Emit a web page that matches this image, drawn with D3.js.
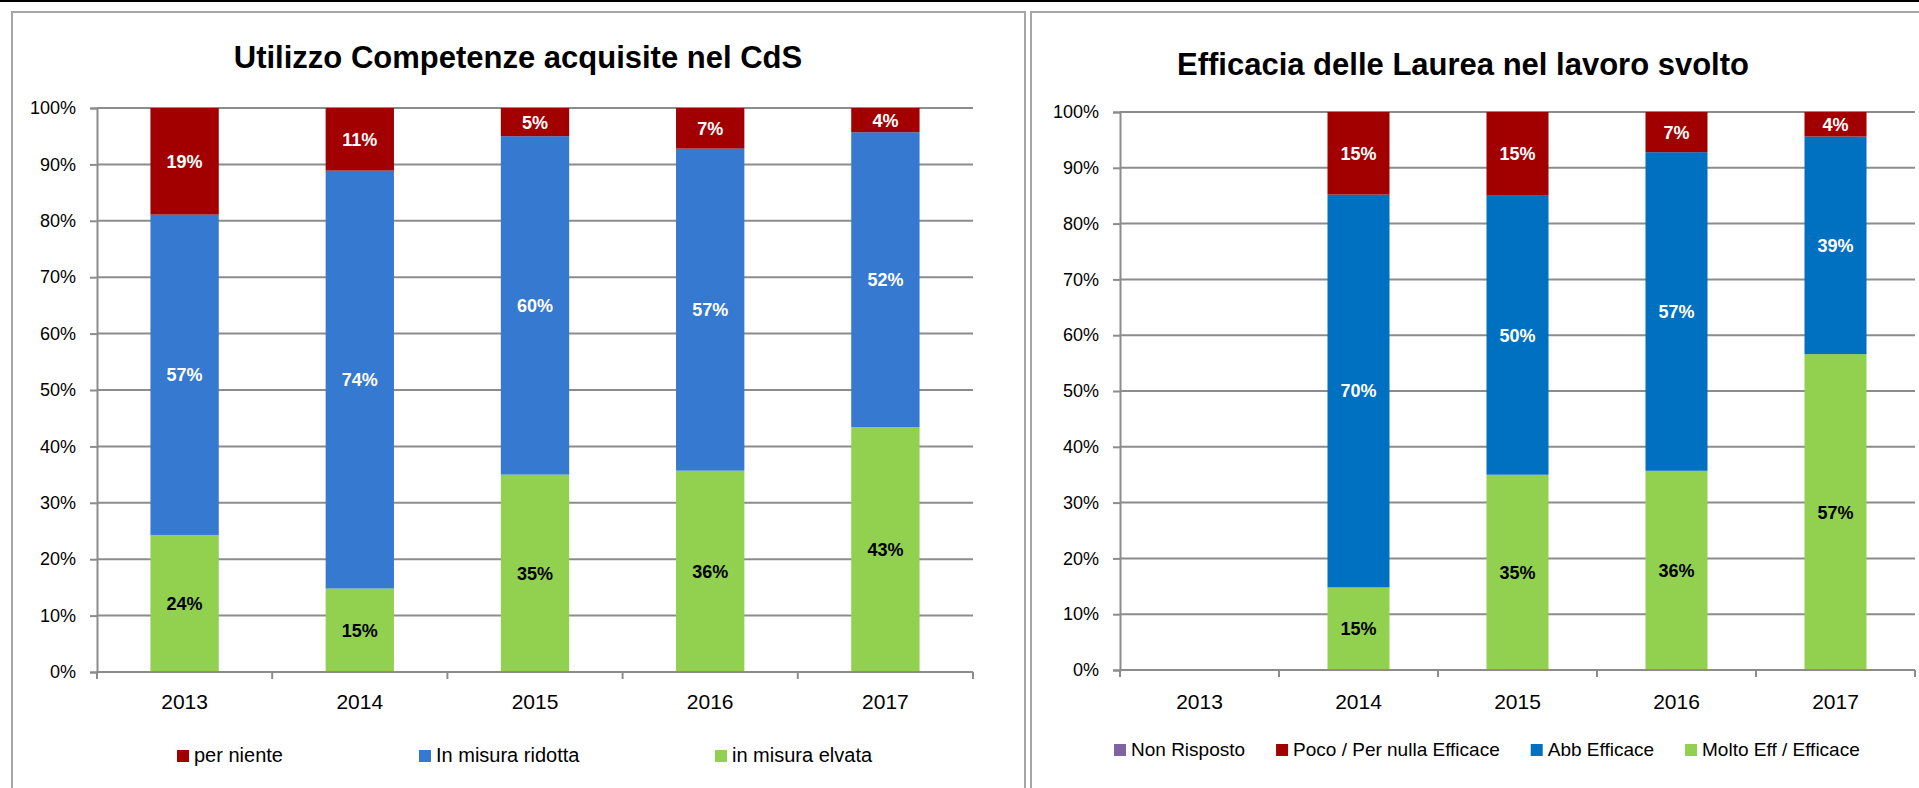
<!DOCTYPE html>
<html>
<head>
<meta charset="utf-8">
<script src="https://d3js.org/d3.v7.min.js"></script>
<style>
    body { margin: 0; background: #fff; }
    svg { display: block; font-family: "Liberation Sans", Arial, sans-serif; }
</style>
</head>
<body>
<div id="charts"></div>
<script>
// data (percent of respondents)
var years = ["2013", "2014", "2015", "2016", "2017"];

// chart 1 - Utilizzo Competenze acquisite nel CdS
var perNiente = [18.9, 11.1, 5.0, 7.2, 4.3];
var inMisuraRidotta = [56.8, 74.1, 60.0, 57.1, 52.3];
var inMisuraElvata = [24.3, 14.8, 35.0, 35.7, 43.4];

// chart 2 - Efficacia delle Laurea nel lavoro svolto
var nonRisposto = [0, 0, 0, 0, 0];
var pocoPerNulla = [0, 14.8, 15.0, 7.2, 4.4];
var abbEfficace = [0, 70.4, 50.0, 57.1, 39.0];
var moltoEff = [0, 14.8, 35.0, 35.7, 56.6];

var yTicks = [0, 10, 20, 30, 40, 50, 60, 70, 80, 90, 100];

var svg = d3.select("#charts").append("svg")
    .attr("width", 1919)
    .attr("height", 788);

// black rule on top of the page
svg.append("rect").attr("x", 0).attr("y", 0).attr("width", 1919).attr("height", 2).attr("fill", "#000");

// panel borders
svg.append("rect").attr("x", 12).attr("y", 12).attr("width", 1013).attr("height", 800)
    .attr("fill", "none").attr("stroke", "#a6a6a6").attr("stroke-width", 2);
svg.append("rect").attr("x", 1031).attr("y", 12).attr("width", 920).attr("height", 800)
    .attr("fill", "none").attr("stroke", "#a6a6a6").attr("stroke-width", 2);

drawChart({
    title: "Utilizzo Competenze acquisite nel CdS",
    titleX: 518, titleY: 68,
    left: 97, right: 973, top: 108, bottom: 672,
    series: [
        {name: "in misura elvata", values: inMisuraElvata, color: "#92d050", text: "#000"},
        {name: "In misura ridotta", values: inMisuraRidotta, color: "#3579d0", text: "#fff"},
        {name: "per niente", values: perNiente, color: "#a20000", text: "#fff"}
    ],
    legendOrder: ["per niente", "In misura ridotta", "in misura elvata"],
    legendX: [177, 419, 715], legendY: 750, legendFont: 20
});

drawChart({
    title: "Efficacia delle Laurea nel lavoro svolto",
    titleX: 1463, titleY: 75,
    left: 1120, right: 1915, top: 112, bottom: 670,
    series: [
        {name: "Molto Eff / Efficace", values: moltoEff, color: "#92d050", text: "#000"},
        {name: "Abb Efficace", values: abbEfficace, color: "#0070c0", text: "#fff"},
        {name: "Poco / Per nulla Efficace", values: pocoPerNulla, color: "#a20000", text: "#fff"},
        {name: "Non Risposto", values: nonRisposto, color: "#8064a2", text: "#fff"}
    ],
    legendOrder: ["Non Risposto", "Poco / Per nulla Efficace", "Abb Efficace", "Molto Eff / Efficace"],
    legendX: null, legendStart: 1114, legendGap: 31, legendY: 744, legendFont: 19
});

function drawChart(cfg) {
    var g = svg.append("g");

    //Title
    g.append("text")
        .attr("x", cfg.titleX)
        .attr("y", cfg.titleY)
        .attr("text-anchor", "middle")
        .style("font-size", "31px")
        .style("font-weight", "bold")
        .text(cfg.title);

    var x = d3.scaleBand().domain(years).range([cfg.left, cfg.right]).padding(0);
    var y = d3.scaleLinear().domain([0, 100]).range([cfg.bottom, cfg.top]);
    var barW = x.bandwidth() * 0.39;

    //Gridlines
    g.selectAll(".grid")
        .data(yTicks.filter(function (d) { return d > 0; }))
        .enter().append("line")
        .attr("x1", cfg.left).attr("x2", cfg.right)
        .attr("y1", function (d) { return y(d); })
        .attr("y2", function (d) { return y(d); })
        .attr("stroke", "#8c8c8c").attr("stroke-width", 2);

    //Y axis
    var yAxis = g.append("g")
        .attr("transform", "translate(" + cfg.left + ",0)")
        .call(d3.axisLeft(y).tickValues(yTicks).tickSize(7).tickPadding(14)
            .tickFormat(function (d) { return d + "%"; }));
    yAxis.select(".domain").attr("stroke", "#8c8c8c").attr("stroke-width", 2);
    yAxis.selectAll(".tick line").attr("stroke", "#8c8c8c").attr("stroke-width", 2);
    yAxis.selectAll("text").style("font-size", "18px").attr("fill", "#000")
        .style("font-family", "Liberation Sans, Arial, sans-serif");

    //Stacked bars
    var keys = cfg.series.map(function (s) { return s.name; });
    var rows = years.map(function (yr, i) {
        var r = {year: yr};
        cfg.series.forEach(function (s) { r[s.name] = s.values[i]; });
        return r;
    });
    var stacked = d3.stack().keys(keys)(rows);

    stacked.forEach(function (layer, k) {
        var s = cfg.series[k];
        g.selectAll(".bar" + k)
            .data(layer.filter(function (d) { return d[1] - d[0] > 0; }))
            .enter().append("rect")
            .attr("x", function (d) { return x(d.data.year) + (x.bandwidth() - barW) / 2; })
            .attr("width", barW)
            .attr("y", function (d) { return y(d[1]); })
            .attr("height", function (d) { return y(d[0]) - y(d[1]); })
            .attr("fill", s.color);

        g.selectAll(".lab" + k)
            .data(layer.filter(function (d) { return d[1] - d[0] > 0; }))
            .enter().append("text")
            .attr("x", function (d) { return x(d.data.year) + x.bandwidth() / 2; })
            .attr("y", function (d) { return (y(d[0]) + y(d[1])) / 2; })
            .attr("dy", "0.36em")
            .attr("text-anchor", "middle")
            .style("font-size", "18px")
            .style("font-weight", "bold")
            .attr("fill", s.text)
            .text(function (d) { return Math.round(d[1] - d[0]) + "%"; });
    });

    //X axis line, ticks at category boundaries and labels
    g.append("line")
        .attr("x1", cfg.left).attr("x2", cfg.right)
        .attr("y1", cfg.bottom).attr("y2", cfg.bottom)
        .attr("stroke", "#8c8c8c").attr("stroke-width", 2);
    var bounds = years.map(function (d) { return x(d); }).concat([cfg.right]);
    g.selectAll(".xtick")
        .data(bounds)
        .enter().append("line")
        .attr("x1", function (d) { return d; }).attr("x2", function (d) { return d; })
        .attr("y1", cfg.bottom).attr("y2", cfg.bottom + 7)
        .attr("stroke", "#8c8c8c").attr("stroke-width", 2);
    g.selectAll(".xlab")
        .data(years)
        .enter().append("text")
        .attr("x", function (d) { return x(d) + x.bandwidth() / 2; })
        .attr("y", 709)
        .attr("text-anchor", "middle")
        .style("font-size", "21px")
        .text(function (d) { return d; });

    //Legend
    var pos = cfg.legendStart;
    cfg.legendOrder.forEach(function (name, i) {
        var s = cfg.series.find(function (d) { return d.name === name; });
        var lx = cfg.legendX ? cfg.legendX[i] : pos;
        g.append("rect")
            .attr("x", lx).attr("y", cfg.legendY)
            .attr("width", 12).attr("height", 12)
            .attr("fill", s.color);
        var t = g.append("text")
            .attr("x", lx + 17).attr("y", cfg.legendY + 12)
            .style("font-size", cfg.legendFont + "px")
            .text(name);
        pos = lx + 17 + t.node().getComputedTextLength() + cfg.legendGap;
    });
}
</script>
</body>
</html>
